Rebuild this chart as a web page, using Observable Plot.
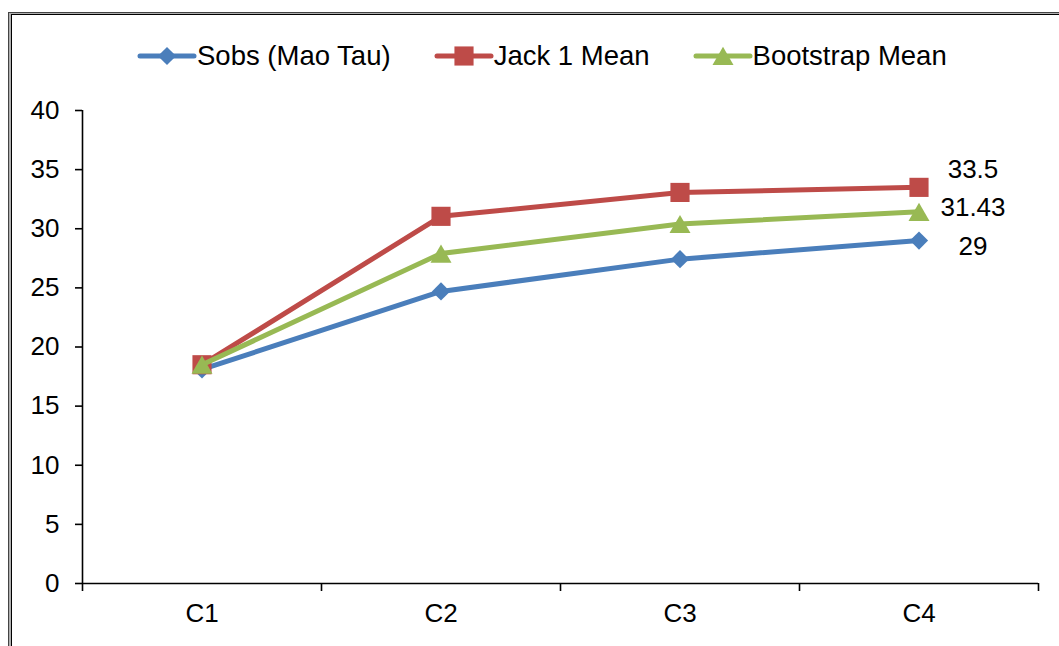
<!DOCTYPE html>
<html>
<head>
<meta charset="utf-8">
<script src="https://cdn.jsdelivr.net/npm/d3@7"></script>
<script src="https://cdn.jsdelivr.net/npm/@observablehq/plot@0.6"></script>
<style>
  html, body { margin: 0; padding: 0; background: #fff; }
  #wrap { position: relative; width: 1059px; height: 646px; overflow: hidden;
          font-family: "Liberation Sans", Arial, sans-serif; }
  #frameOuter { position: absolute; left: 8px; top: 12px; width: 1100px; height: 700px;
                border-left: 1px solid #444; border-top: 1px solid #444; background: #b0b0b0; }
  #frameInner { position: absolute; left: 11px; top: 14px; width: 1100px; height: 700px;
                border-left: 1.5px solid #000; border-top: 1.5px solid #000; background: #fff; }
  #chart { position: absolute; left: 0; top: 0; }
  #legend { position: absolute; left: 137px; top: 40px; display: flex; gap: 43px;
            font-size: 27.5px; color: #000; align-items: center; }
  .item { display: flex; align-items: center; }
  .item svg { display: block; }
</style>
</head>
<body>
<div id="wrap">
  <div id="frameOuter"></div>
  <div id="frameInner"></div>
  <div id="chart"></div>
  <div id="legend"></div>
</div>
<script>
// Richness estimators by sample group
const categories = ["C1", "C2", "C3", "C4"];
const sobs = [18.1, 24.7, 27.43, 29];
const jack1 = [18.5, 31.05, 33.07, 33.5];
const bootstrap = [18.5, 27.9, 30.4, 31.43];
const seriesNames = ["Sobs (Mao Tau)", "Jack 1 Mean", "Bootstrap Mean"];
const seriesColors = ["#4A7EBB", "#BE4B48", "#98B954"];
const yTicks = [0, 5, 10, 15, 20, 25, 30, 35, 40];

const seriesValues = [sobs, jack1, bootstrap];
const symbols = ["diamond2", "square", "triangle"];
const radii = [8.2, 10.8, 7.8];
const symbolShift = [0, 0, 3];          // centre the triangle on its box, not its centroid
const endLabelShift = [6, -18, -4];     // vertical nudge of the end-value labels

const rows = seriesNames.map((name, s) =>
  categories.map((c, i) => ({series: s, name, cat: c, idx: i + 0.5, value: seriesValues[s][i]}))
);

const marks = [
  Plot.ruleY([0], {x1: 0, x2: categories.length, stroke: "#000", strokeWidth: 1.6}),
  Plot.ruleX([0], {y1: 0, y2: 40, stroke: "#000", strokeWidth: 1.6}),
  Plot.axisY({ticks: yTicks, tickSize: 7, tickPadding: 16, strokeWidth: 1.6, fontSize: 26, fill: "#000", label: null}),
  Plot.axisX({ticks: d3.range(categories.length + 1), tickFormat: () => "", tickSize: 8, strokeWidth: 1.6, label: null}),
  Plot.axisX({ticks: categories.map((c, i) => i + 0.5), tickFormat: (d) => categories[Math.floor(d)],
              tickSize: 0, tickPadding: 20, fontSize: 26, fill: "#000", label: null})
];

rows.forEach((data, s) => {
  marks.push(Plot.line(data, {x: "idx", y: "value", stroke: seriesColors[s], strokeWidth: 5,
                              strokeLinejoin: "round", strokeLinecap: "round"}));
  marks.push(Plot.dot(data, {x: "idx", y: "value", symbol: () => symbols[s], r: radii[s],
                             fill: seriesColors[s], stroke: "none", dy: symbolShift[s]}));
});

// value labels at the last category
rows.forEach((data, s) => {
  const last = data[data.length - 1];
  marks.push(Plot.text([last], {x: "idx", y: "value", text: (d) => String(d.value),
                                dx: 54, dy: endLabelShift[s], fontSize: 26, fill: "#000",
                                textAnchor: "middle"}));
});

const chart = Plot.plot({
  width: 1059,
  height: 646,
  marginLeft: 82,
  marginRight: 21,
  marginTop: 110,
  marginBottom: 63,
  x: {type: "linear", domain: [0, categories.length], axis: null, label: null},
  y: {type: "linear", domain: [0, 40], axis: null, label: null},
  symbol: {type: "identity"},
  style: {fontFamily: "'Liberation Sans', Arial, sans-serif", fontSize: "26px", background: "transparent", color: "#000"},
  marks
});
document.getElementById("chart").appendChild(chart);

// legend
const legend = d3.select("#legend");
seriesNames.forEach((name, s) => {
  const item = legend.append("div").attr("class", "item");
  const svg = item.append("svg").attr("width", 60).attr("height", 30);
  svg.append("line").attr("x1", 3).attr("x2", 57).attr("y1", 15).attr("y2", 15)
    .attr("stroke", seriesColors[s]).attr("stroke-width", 5).attr("stroke-linecap", "round");
  const sym = {diamond2: d3.symbolDiamond2, square: d3.symbolSquare, triangle: d3.symbolTriangle}[symbols[s]];
  svg.append("path").attr("transform", `translate(30,${15 + symbolShift[s]})`)
    .attr("d", d3.symbol(sym, Math.PI * radii[s] * radii[s])())
    .attr("fill", seriesColors[s]);
  item.append("span").text(name);
});
</script>
</body>
</html>
